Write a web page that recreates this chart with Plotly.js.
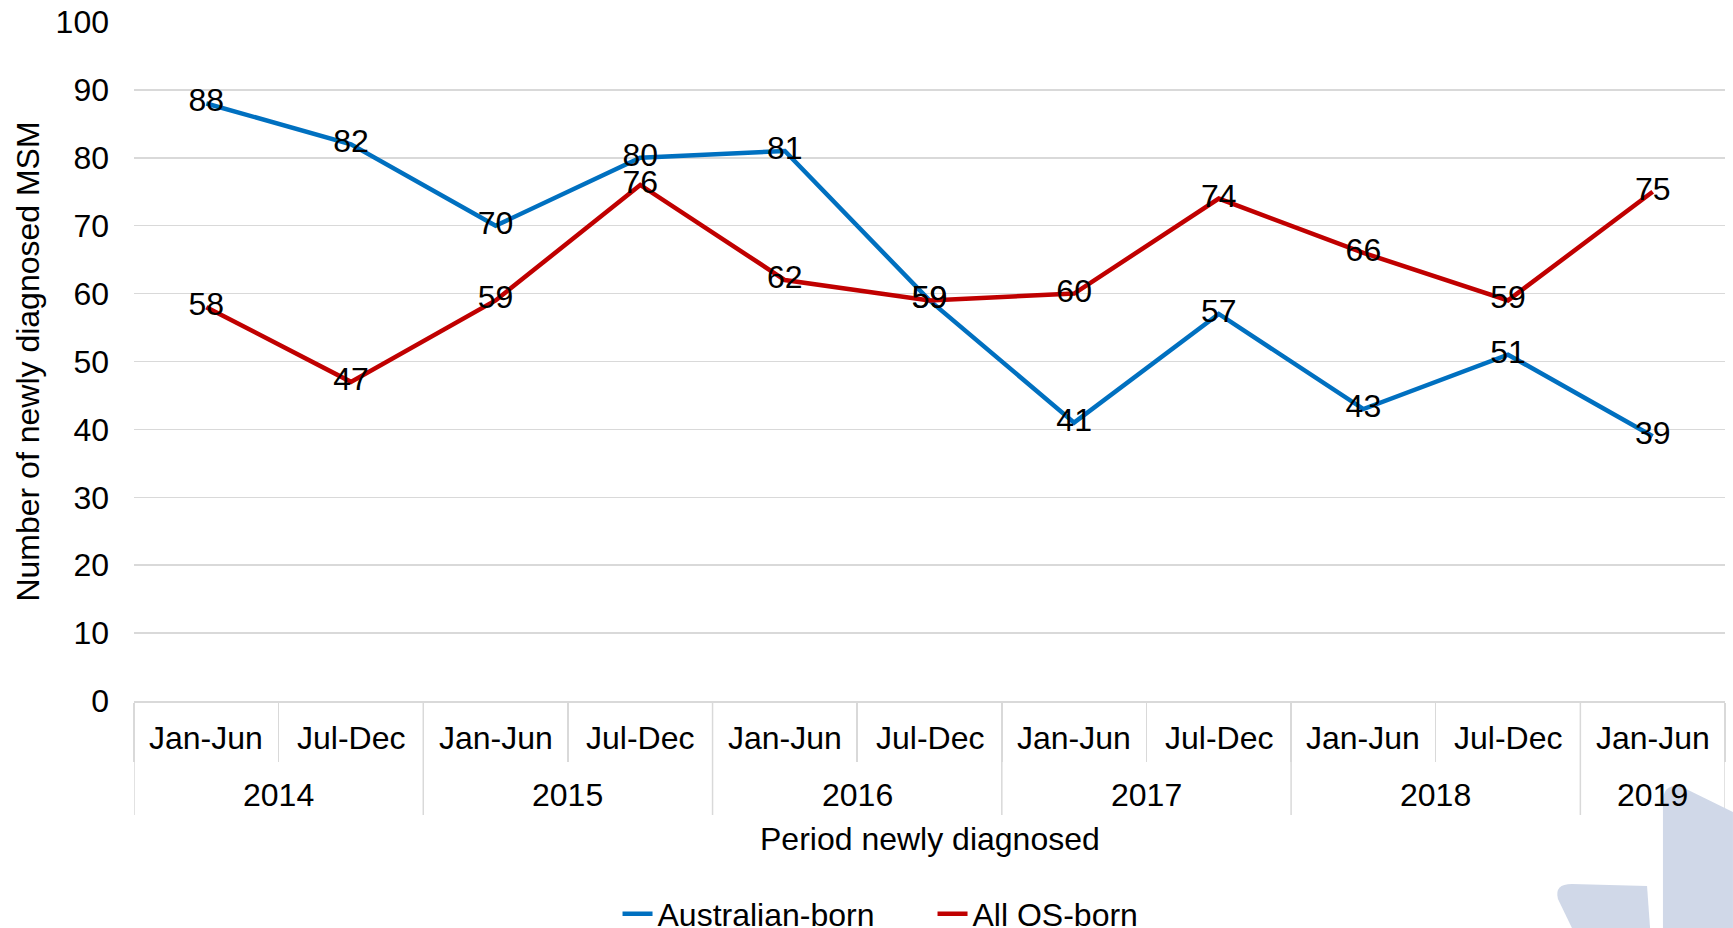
<!DOCTYPE html>
<html>
<head>
<meta charset="utf-8">
<script src="https://cdn.plot.ly/plotly-3.0.1.min.js"></script>
<style>
  html, body { margin: 0; padding: 0; background: #ffffff; }
  #chart { width: 1733px; height: 928px; }
</style>
</head>
<body>
<div id="chart"></div>
<script>
// ---- Data ----
const years   = ['2014','2014','2015','2015','2016','2016','2017','2017','2018','2018','2019'];
const periods = ['Jan-Jun','Jul-Dec','Jan-Jun','Jul-Dec','Jan-Jun','Jul-Dec','Jan-Jun','Jul-Dec','Jan-Jun','Jul-Dec','Jan-Jun'];
const australianBorn = [88, 82, 70, 80, 81, 59, 41, 57, 43, 51, 39];
const allOSBorn      = [58, 47, 59, 76, 62, 59, 60, 74, 66, 59, 75];
const seriesNames = ['Australian-born', 'All OS-born'];
const yTicks = [0, 10, 20, 30, 40, 50, 60, 70, 80, 90, 100];

// ---- Layout constants ----
const W = 1733, H = 928;
const M = { l: 134, r: 8, t: 22, b: 227 };
const FONT = 'Liberation Sans, Arial, sans-serif';
const FS = 32;
const GRID = '#D9D9D9';
const TXT = { family: FONT, size: FS, color: '#000000' };

const pw = W - M.l - M.r, ph = H - M.t - M.b;
const py = y => (H - M.b - y) / ph;          // pixel row -> paper y
const pxp = x => ((x - M.l) / pw).toFixed(4); // pixel col -> paper x (decoration only)
function path(pts) {
  return pts.map(p => p[0] + ' ' + pxp(p[1]) + ',' + py(p[2]).toFixed(4)).join(' ') + ' Z';
}

const traces = [
  {
    x: [years, periods], y: australianBorn, name: seriesNames[0],
    type: 'scatter', mode: 'lines+text',
    line: { color: '#0070C0', width: 4.5 },
    text: australianBorn.map(String), textposition: 'middle center',
    textfont: TXT, hoverinfo: 'skip'
  },
  {
    x: [years, periods], y: allOSBorn, name: seriesNames[1],
    type: 'scatter', mode: 'lines+text',
    line: { color: '#C00000', width: 4.5 },
    text: allOSBorn.map(String), textposition: 'middle center',
    textfont: TXT, hoverinfo: 'skip'
  }
];

// Year groups derived from the years array
const groups = [];
years.forEach((y, i) => {
  const g = groups[groups.length - 1];
  if (g && g.year === y) g.end = i; else groups.push({ year: y, start: i, end: i });
});

// Category labels (two levels) placed on the x scale by category index
const annotations = [];
periods.forEach((p, i) => {
  annotations.push({ x: i, xref: 'x', y: py(738), yref: 'paper', yanchor: 'middle',
    text: p, showarrow: false, font: TXT });
});
groups.forEach(g => {
  annotations.push({ x: (g.start + g.end) / 2, xref: 'x', y: py(795), yref: 'paper', yanchor: 'middle',
    text: g.year, showarrow: false, font: TXT });
});
annotations.push({ x: 0.5, xref: 'paper', y: py(839), yref: 'paper', yanchor: 'middle',
  text: 'Period newly diagnosed', showarrow: false, font: TXT });

// Year dividers at group boundaries
const dividerShapes = [];
const bounds = groups.map(g => g.start - 0.5).concat([groups[groups.length - 1].end + 0.5]);
bounds.forEach(b => {
  dividerShapes.push({ type: 'line', xref: 'x', yref: 'paper', x0: b, x1: b, y0: 0, y1: py(815),
    line: { color: GRID, width: 1.5 }, layer: 'below' });
});

const layout = {
  width: W, height: H,
  margin: M,
  paper_bgcolor: '#ffffff', plot_bgcolor: '#ffffff',
  font: TXT,
  showlegend: true,
  legend: {
    orientation: 'h', xref: 'container', yref: 'container',
    x: 0.5381, xanchor: 'center', y: 1 - 914 / H, yanchor: 'middle',
    font: TXT, entrywidth: 270, entrywidthmode: 'pixels',
    itemclick: false, itemdoubleclick: false, traceorder: 'normal'
  },
  xaxis: {
    type: 'multicategory', range: [-0.5, 10.5],
    showgrid: false, zeroline: false,
    showline: true, linecolor: GRID, linewidth: 1.5,
    ticks: 'outside', tickson: 'boundaries', ticklen: 59, tickcolor: GRID, tickwidth: 1.5,
    showdividers: false, showticklabels: false,
    automargin: false, fixedrange: true
  },
  yaxis: {
    range: [0, 100], tickvals: yTicks, ticktext: yTicks.map(String),
    showgrid: true, gridcolor: GRID, gridwidth: 1.5,
    zeroline: false, showline: false, ticks: '',
    ticklabelstandoff: 24,
    tickfont: TXT,
    title: { text: 'Number of newly diagnosed MSM', font: TXT, standoff: 6 },
    automargin: false, fixedrange: true
  },
  annotations: annotations,
  shapes: dividerShapes.concat([
    {
      type: 'path', xref: 'paper', yref: 'paper', layer: 'below', line: { width: 0 },
      fillcolor: '#D0D8E8',
      path: path([['M',1663,928],['L',1663,800],['Q',1664,784],[' ',1680,786],['L',1733,812],['L',1733,928]])
    },
    {
      type: 'path', xref: 'paper', yref: 'paper', layer: 'below', line: { width: 0 },
      fillcolor: '#D0D8E8',
      path: path([['M',1572,928],['L',1558,899],['Q',1554,884],[' ',1572,884],['L',1647,886],['L',1650,928]])
    }
  ])
};

Plotly.newPlot('chart', traces, layout, { displayModeBar: false, staticPlot: true });
</script>
</body>
</html>
